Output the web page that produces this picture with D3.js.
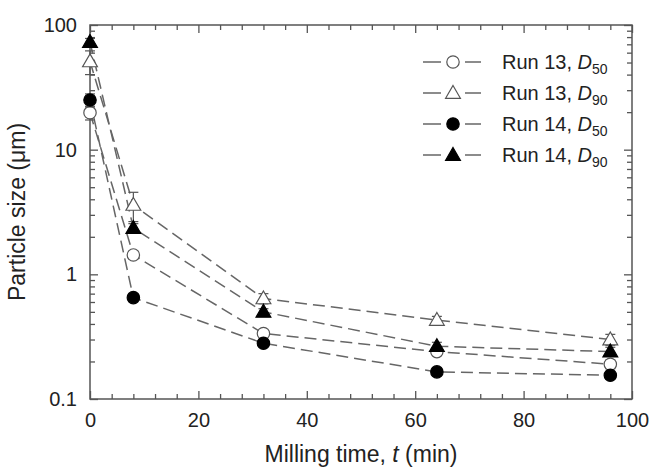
<!DOCTYPE html>
<html>
<head>
<meta charset="utf-8">
<script src="https://cdn.jsdelivr.net/npm/d3@7"></script>
<style>
  html, body { margin: 0; padding: 0; background: #fff; }
  svg { display: block; }
  text { font-family: Arial, "Liberation Sans", sans-serif; }
</style>
</head>
<body>
<svg id="chart" width="649" height="469"></svg>
<script>
// ---- data ----
const times = [0, 8, 32, 64, 96];
const run13D50 = [19.8, 1.43, 0.335, 0.24, 0.19];
const run13D90 = [51, 3.6, 0.64, 0.43, 0.30];
const run14D50 = [25, 0.65, 0.28, 0.165, 0.155];
const run14D90 = [73, 2.35, 0.50, 0.265, 0.24];
const run13D50Err = [2.5, 0.1, 0.02, 0.015, 0.015];
const run13D90Err = [11, 0.95, 0.06, 0.03, 0.03];
const run14D50Err = [3, 0.04, 0.015, 0.01, 0.01];
const run14D90Err = [5, 0.2, 0.03, 0.02, 0.02];
const seriesNames = ["Run 13, D50", "Run 13, D90", "Run 14, D50", "Run 14, D90"];
const xTicks = [0, 20, 40, 60, 80, 100];
const yTicks = [0.1, 1, 10, 100];
const yTickLabels = ["0.1", "1", "10", "100"];
const xTitle = "Milling time, t (min)";
const yTitle = "Particle size (μm)";

const series = [
  { run: "Run 13", d: "50", values: run13D50, err: run13D50Err, shape: "circle", filled: false },
  { run: "Run 13", d: "90", values: run13D90, err: run13D90Err, shape: "triangle", filled: false },
  { run: "Run 14", d: "50", values: run14D50, err: run14D50Err, shape: "circle", filled: true },
  { run: "Run 14", d: "90", values: run14D90, err: run14D90Err, shape: "triangle", filled: true }
];

// ---- layout ----
const svg = d3.select("#chart");
const L = 90, R = 632, T = 25, B = 399;
const axisColor = "#555";
const lineColor = "#666";

const x = d3.scaleLinear().domain([0, 100]).range([L, R]);
const y = d3.scaleLog().domain([0.1, 100]).range([B, T]);

const xMinor = d3.range(0, 101, 4).filter(v => v % 20 !== 0);
const yMinor = [];
[0.1, 1, 10].forEach(dec => { for (let k = 2; k <= 9; k++) yMinor.push(dec * k); });

function styleAxis(g) {
  g.select(".domain").remove();
  g.selectAll("line").attr("stroke", axisColor).attr("stroke-width", 1.3);
  g.selectAll("text").attr("fill", "#222").style("font-size", "20px");
}

// bottom axis
svg.append("g").attr("transform", `translate(0,${B})`)
  .call(d3.axisBottom(x).tickValues(xTicks).tickFormat(d3.format("d")).tickSizeInner(-8).tickSizeOuter(0).tickPadding(14))
  .call(styleAxis);
svg.append("g").attr("transform", `translate(0,${B})`)
  .call(d3.axisBottom(x).tickValues(xMinor).tickFormat("").tickSizeInner(-5).tickSizeOuter(0))
  .call(styleAxis);
// top axis
svg.append("g").attr("transform", `translate(0,${T})`)
  .call(d3.axisTop(x).tickValues(xTicks).tickFormat("").tickSizeInner(-8).tickSizeOuter(0))
  .call(styleAxis);
svg.append("g").attr("transform", `translate(0,${T})`)
  .call(d3.axisTop(x).tickValues(xMinor).tickFormat("").tickSizeInner(-5).tickSizeOuter(0))
  .call(styleAxis);
// left axis
svg.append("g").attr("transform", `translate(${L},0)`)
  .call(d3.axisLeft(y).tickValues(yTicks).tickFormat((d, i) => yTickLabels[i]).tickSizeInner(-8).tickSizeOuter(0).tickPadding(13))
  .call(styleAxis);
svg.append("g").attr("transform", `translate(${L},0)`)
  .call(d3.axisLeft(y).tickValues(yMinor).tickFormat("").tickSizeInner(-5).tickSizeOuter(0))
  .call(styleAxis);
// right axis
svg.append("g").attr("transform", `translate(${R},0)`)
  .call(d3.axisRight(y).tickValues(yTicks).tickFormat("").tickSizeInner(-8).tickSizeOuter(0))
  .call(styleAxis);
svg.append("g").attr("transform", `translate(${R},0)`)
  .call(d3.axisRight(y).tickValues(yMinor).tickFormat("").tickSizeInner(-5).tickSizeOuter(0))
  .call(styleAxis);

// frame
svg.append("rect").attr("x", L).attr("y", T).attr("width", R - L).attr("height", B - T)
  .attr("fill", "none").attr("stroke", axisColor).attr("stroke-width", 1.5);

// axis titles
svg.append("text").attr("x", (L + R) / 2).attr("y", 462).attr("text-anchor", "middle")
  .style("font-size", "23px").attr("fill", "#222")
  .html('Milling time, <tspan font-style="italic">t</tspan> (min)');
svg.append("text").attr("transform", `translate(25,${(T + B) / 2}) rotate(-90)`)
  .attr("text-anchor", "middle").style("font-size", "23px").attr("fill", "#222")
  .text(yTitle);

// lines
const line = d3.line().x((d, i) => x(times[i])).y(d => y(d));
series.forEach(s => {
  svg.append("path").attr("d", line(s.values)).attr("fill", "none")
    .attr("stroke", lineColor).attr("stroke-width", 1.5).attr("stroke-dasharray", "12,6");
});

// markers
const triSym = d3.symbol().type(d3.symbolTriangle).size(95);
function drawMarker(g, s, cx, cy) {
  const fill = s.filled ? "#000" : "#fff";
  const stroke = s.filled ? "#000" : "#555";
  if (s.shape === "circle") {
    g.append("circle").attr("cx", cx).attr("cy", cy).attr("r", 6.2)
      .attr("fill", fill).attr("stroke", stroke).attr("stroke-width", 1.2);
  } else {
    g.append("path").attr("d", triSym()).attr("transform", `translate(${cx},${cy + 1})`)
      .attr("fill", fill).attr("stroke", stroke).attr("stroke-width", 1.2);
  }
}

series.forEach(s => {
  const g = svg.append("g");
  s.values.forEach((v, i) => {
    const cx = x(times[i]);
    const top = y(v + s.err[i]), bot = y(Math.max(v - s.err[i], 0.01));
    const eb = g.append("g").attr("stroke", "#555").attr("stroke-width", 1.2);
    eb.append("line").attr("x1", cx).attr("x2", cx).attr("y1", top).attr("y2", bot);
    eb.append("line").attr("x1", cx - 5).attr("x2", cx + 5).attr("y1", top).attr("y2", top);
    eb.append("line").attr("x1", cx - 5).attr("x2", cx + 5).attr("y1", bot).attr("y2", bot);
    drawMarker(g, s, cx, y(v));
  });
});

// legend
const legY0 = 62, legDy = 31;
series.forEach((s, i) => {
  const ly = legY0 + i * legDy;
  const g = svg.append("g");
  g.append("line").attr("x1", 423).attr("x2", 441).attr("y1", ly).attr("y2", ly)
    .attr("stroke", lineColor).attr("stroke-width", 1.5);
  g.append("line").attr("x1", 465).attr("x2", 481).attr("y1", ly).attr("y2", ly)
    .attr("stroke", lineColor).attr("stroke-width", 1.5);
  drawMarker(g, s, 453, ly);
  const t = g.append("text").attr("x", 502).attr("y", ly + 7).style("font-size", "20px").attr("fill", "#222");
  t.append("tspan").text(s.run + ", ");
  t.append("tspan").attr("font-style", "italic").text("D");
  t.append("tspan").attr("dy", 5).style("font-size", "14px").text(s.d);
});
</script>
</body>
</html>
